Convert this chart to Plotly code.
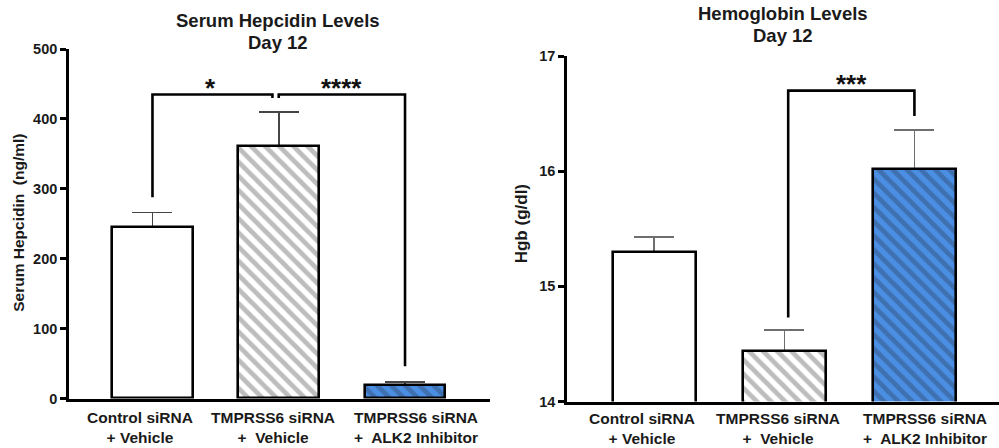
import plotly.graph_objects as go

# ---------------- data ----------------
categories = ["Control siRNA<br>+ Vehicle", "TMPRSS6 siRNA<br>+  Vehicle", "TMPRSS6 siRNA<br>+  ALK2 Inhibitor"]
cat_pos = [0, 1, 2]

hepcidin_mean = [246, 361, 19]
hepcidin_sem = [20, 49, 5]

hgb_mean = [15.30, 14.44, 16.02]
hgb_sem = [0.13, 0.18, 0.34]

hep_ticks = [0, 100, 200, 300, 400, 500]
hgb_ticks = [14, 15, 16, 17]

# significance brackets: (x_left, x_right, y_top, y_left_bottom, y_right_bottom, label, label_x, label_y)
hep_brackets = [
    (0.0, 0.95, 435, 288, 430, "*", 0.46, 453),
    (1.0, 2.0, 435, 430, 46, "****", 1.50, 453),
]
hgb_brackets = [
    (1.03, 2.0, 16.70, 14.73, 16.48, "***", 1.52, 16.81),
]

# ---------------- styles ----------------
FONT = "Liberation Sans, Arial, sans-serif"
fills = ["white", "white", "#4a8fe3"]
pat_fg = ["white", "#7c7c7c", "#34527e"]
pat_shape = ["", "\\", "\\"]
err_colors = {"x": "#454545", "x2": "#6e6e6e"}
label_shift = [-12, -6, 11]   # label offsets (px) relative to bar centres

W, H = 999, 448
# vertical calibration of the rendered page (measured from earlier renders)
V_OFF, V_SCALE = 9.0, 0.963


def py(px):
    """paper y fraction for a target vertical pixel position"""
    return 1 - ((px - V_OFF) / V_SCALE) / H


fig = go.Figure()


def add_panel(means, sems, xa, ya):
    # error bars drawn first (under the real bars so the lower cap is hidden)
    fig.add_trace(go.Bar(
        x=cat_pos, y=means, width=0.64, xaxis=xa, yaxis=ya,
        marker=dict(color="rgba(0,0,0,0)", line=dict(width=0)),
        error_y=dict(type="data", array=sems, arrayminus=[0] * len(sems), symmetric=False,
                     color=err_colors[xa], thickness=1.6, width=20),
        showlegend=False, hoverinfo="skip",
    ))
    for i in range(len(means)):
        fig.add_trace(go.Bar(
            x=[cat_pos[i]], y=[means[i]], width=0.64, xaxis=xa, yaxis=ya,
            marker=dict(
                color=fills[i],
                line=dict(color="black", width=2.6),
                pattern=dict(shape=pat_shape[i], fgcolor=pat_fg[i],
                             size=10, solidity=0.48, fillmode="overlay"),
            ),
            showlegend=False,
        ))


add_panel(hepcidin_mean, hepcidin_sem, "x", "y")
add_panel(hgb_mean, hgb_sem, "x2", "y2")

shapes = []
annotations = []


def add_brackets(brs, xref, yref):
    for xl, xr, yt, ylb, yrb, lab, lx, ly in brs:
        shapes.append(dict(
            type="path", xref=xref, yref=yref,
            path=f"M {xl},{ylb} L {xl},{yt} L {xr},{yt} L {xr},{yrb}",
            line=dict(color="black", width=2.6),
        ))
        annotations.append(dict(
            x=lx, y=ly, xref=xref, yref=yref, text=f"<b>{lab}</b>", showarrow=False,
            font=dict(family=FONT, size=26, color="#111111"), yanchor="middle", yshift=-6,
        ))


add_brackets(hep_brackets, "x", "y")
add_brackets(hgb_brackets, "x2", "y2")

# category labels (as annotations below each axis)
for xref, yref, ysh in (("x", "y domain", -8), ("x2", "y2 domain", -6)):
    for i, c in enumerate(categories):
        annotations.append(dict(
            x=cat_pos[i], y=0, xref=xref, yref=yref, text=f"<b>{c}</b>", showarrow=False,
            xanchor="center", yanchor="top", xshift=label_shift[i], yshift=ysh,
            font=dict(family=FONT, size=15.5, color="#1a1a1a"),
        ))

# titles
title_specs = [
    (278, 21, "Serum Hepcidin Levels"),
    (278, 43, "Day 12"),
    (783, 14, "Hemoglobin Levels"),
    (783, 36, "Day 12"),
]
for px, pyy, t in title_specs:
    annotations.append(dict(
        x=px / W, y=py(pyy), xref="paper", yref="paper", text=f"<b>{t}</b>",
        showarrow=False, xanchor="center", yanchor="middle",
        font=dict(family=FONT, size=18.5, color="#1a1a1a"),
    ))

# y-axis titles
annotations += [
    dict(x=18.5 / W, y=py(224), xref="paper", yref="paper", text="<b>Serum Hepcidin  (ng/ml)</b>",
         textangle=-90, showarrow=False, xanchor="center", yanchor="middle",
         font=dict(family=FONT, size=15.5, color="#1a1a1a")),
    dict(x=521 / W, y=py(225), xref="paper", yref="paper", text="<b>Hgb (g/dl)</b>",
         textangle=-90, showarrow=False, xanchor="center", yanchor="middle",
         font=dict(family=FONT, size=17, color="#1a1a1a")),
]

xaxis_common = dict(
    tickmode="array", tickvals=cat_pos, showticklabels=False,
    showline=True, linecolor="black", linewidth=2.6, ticks="", showgrid=False, zeroline=False,
    fixedrange=True,
)
yaxis_common = dict(
    showline=True, linecolor="black", linewidth=2.6, ticks="outside", ticklen=6, tickwidth=2.6,
    tickcolor="black", showgrid=False, zeroline=False, tickmode="array",
    tickfont=dict(family=FONT, size=14.5, color="#1a1a1a"),
)

fig.update_layout(
    width=W, height=H, autosize=False,
    margin=dict(l=0, r=0, t=0, b=0),
    paper_bgcolor="white", plot_bgcolor="white",
    barmode="overlay", bargap=0,
    xaxis=dict(domain=[69 / W, 490 / W], range=[-0.661, 2.673], anchor="y", **xaxis_common),
    yaxis=dict(domain=[py(399), py(50)], range=[0, 500], tickvals=hep_ticks,
               ticktext=[f"<b>{t}</b>" for t in hep_ticks], anchor="x", **yaxis_common),
    xaxis2=dict(domain=[567 / W, 1.0], range=[-0.67, 2.65], anchor="y2", **xaxis_common),
    yaxis2=dict(domain=[py(402), py(57)], range=[14, 17], tickvals=hgb_ticks,
                ticktext=[f"<b>{t}</b>" for t in hgb_ticks], anchor="x2", **yaxis_common),
    shapes=shapes,
    annotations=annotations,
    showlegend=False,
)

page_js = (
    "var gd=document.getElementById('{plot_id}');"
    "document.documentElement.style.margin='0';document.documentElement.style.padding='0';"
    "document.documentElement.style.overflow='hidden';"
    "document.body.style.margin='0';document.body.style.padding='0';"
    "document.body.style.overflow='hidden';document.body.style.height='448px';"
    "gd.style.position='fixed';gd.style.top='0px';gd.style.left='0px';"
)

fig.write_html("out.html", config={"displayModeBar": False}, post_script=page_js)
